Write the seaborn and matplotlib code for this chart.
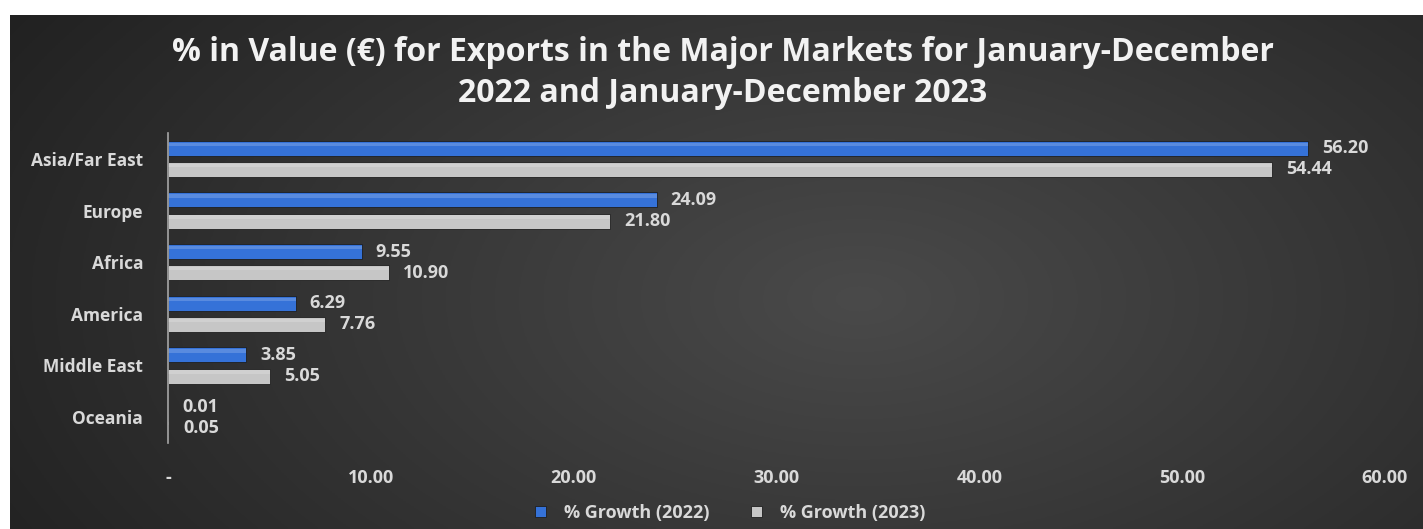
import numpy as np
import pandas as pd
import matplotlib
matplotlib.use("Agg")
import matplotlib.pyplot as plt
import matplotlib.ticker as tkr
import seaborn as sns

# datos del grafico
regions = ["Asia/Far East", "Europe", "Africa", "America", "Middle East", "Oceania"]
growth_2022 = [56.20, 24.09, 9.55, 6.29, 3.85, 0.01]
growth_2023 = [54.44, 21.80, 10.90, 7.76, 5.05, 0.05]
series = ["% Growth (2022)", "% Growth (2023)"]
title = "% in Value (€) for Exports in the Major Markets for January-December\n2022 and January-December 2023"

df = pd.DataFrame({
    "Region": regions * 2,
    "Value": growth_2022 + growth_2023,
    "Series": [series[0]] * len(regions) + [series[1]] * len(regions),
})

sns.set_style("dark")
plt.rcParams["font.family"] = ["Open Sans", "DejaVu Sans"]
txt = "#d9d9d9"

W, H = 1423, 529
fig = plt.figure(figsize=(W / 100, H / 100), dpi=100, facecolor="white")

# fondo con degradado radial
bg = fig.add_axes([10 / W, 0, 1 - 10 / W, 1 - 15 / H])
yy, xx = np.mgrid[0:200, 0:500]
r = np.sqrt(((xx - 300) / 330.0) ** 2 + ((yy - 110) / 200.0) ** 2)
shade = np.clip(0.29 - 0.15 * r, 0.13, 0.29)
bg.imshow(np.dstack([shade] * 3), aspect="auto", extent=[0, 1, 0, 1])
bg.set_axis_off()

ax = fig.add_axes([168 / W, 1 - 443 / H, (1385 - 168) / W, (443 - 133) / H])
ax.patch.set_alpha(0)
palette = {series[0]: "#3572d8", series[1]: "#c6c6c6"}
sns.barplot(data=df, y="Region", x="Value", hue="Series", orient="h",
            palette=palette, width=0.82, gap=0.3, ax=ax, saturation=1,
            edgecolor="#1e1e1e", linewidth=0.6)

# brillo superior para imitar el bisel de las barras
for container in ax.containers:
    for p in container:
        x0, y0 = p.get_x(), p.get_y()
        w, h = p.get_width(), p.get_height()
        ax.add_patch(plt.Rectangle((x0, y0 + h * 0.12), w, h * 0.22,
                                   color="white", alpha=0.18, lw=0))

for container in ax.containers:
    ax.bar_label(container, labels=[f"{v:.2f}" for v in container.datavalues],
                 padding=10, color=txt, fontsize=13, fontweight="bold")

ax.set_xlim(0, 60)
ax.xaxis.set_major_locator(tkr.MultipleLocator(10))
ax.xaxis.set_major_formatter(tkr.FuncFormatter(lambda v, p: "-" if v == 0 else f"{v:.2f}"))
ax.set_xlabel("")
ax.set_ylabel("")
ax.grid(False)
for s in ["top", "right", "bottom"]:
    ax.spines[s].set_visible(False)
ax.spines["left"].set_color("#a6a6a6")
ax.spines["left"].set_linewidth(1.2)
ax.tick_params(axis="y", length=0, pad=18, labelcolor=txt, labelsize=12.5)
ax.tick_params(axis="x", length=0, pad=19, labelcolor=txt, labelsize=13)
for lab in ax.get_xticklabels() + ax.get_yticklabels():
    lab.set_fontweight("bold")

handles, labels = ax.get_legend_handles_labels()
ax.get_legend().remove()
leg = fig.legend(handles, labels, loc="center", bbox_to_anchor=(730 / W, 1 - 513 / H),
                 ncol=2, frameon=False, fontsize=13, handlelength=0.6, handleheight=0.6,
                 columnspacing=2.3, handletextpad=1.0)
for t in leg.get_texts():
    t.set_color(txt)
    t.set_fontweight("bold")

fig.text(723 / W, 1 - 73 / H, title, ha="center", va="center", color="#f2f2f2",
         fontsize=23, fontweight="bold", linespacing=1.3)

fig.savefig("out.png", dpi=100, facecolor=fig.get_facecolor())
